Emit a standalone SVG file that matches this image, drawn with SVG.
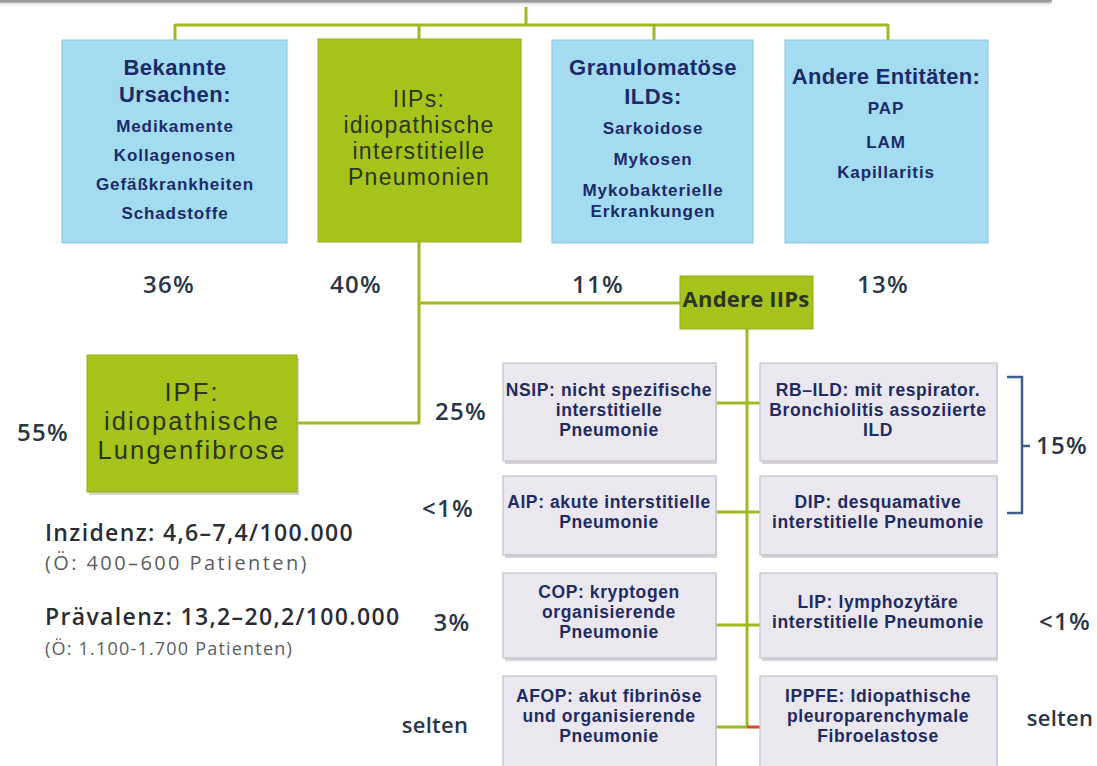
<svg xmlns="http://www.w3.org/2000/svg" width="1097" height="766" viewBox="0 0 1097 766">
<style>
.blue{fill:#a3dbf0;stroke:#8cc3da;stroke-width:1}
.green{fill:#a6c31b;stroke:#93ad1c;stroke-width:1}
.gray{fill:#ebe7ee;stroke:#c4bfc9;stroke-width:1.2}
.shadow{fill:#b9b5bd;opacity:0.6}
.con{fill:none;stroke:#9dbb20;stroke-width:3}
text{font-family:"Liberation Sans",Arial,sans-serif;text-anchor:middle}
.t{fill:#1b2b68;font-weight:700;font-size:22px;letter-spacing:0.5px}
.s{fill:#1b2b68;font-weight:700;font-size:17px;letter-spacing:0.9px}
.g{fill:#1f2c62;font-weight:700;font-size:17.5px;letter-spacing:0.6px}
.o{fill:#2b351f;font-size:23px;letter-spacing:1.3px}
.ipf{fill:#2b351f;font-size:25.5px;letter-spacing:2.1px}
.p{fill:#2b3646;font-family:"Open Sans","Liberation Sans",sans-serif;font-size:24px;font-weight:600;letter-spacing:1.2px}
.info{fill:#2a2d33;font-family:"Open Sans","Liberation Sans",sans-serif;font-size:23px;text-anchor:start;font-weight:600;letter-spacing:1.35px}
.sub{fill:#5a5d63;font-family:"Open Sans","Liberation Sans",sans-serif;font-size:20px;text-anchor:start;letter-spacing:2.4px}
.sub2{fill:#5a5d63;font-family:"Open Sans","Liberation Sans",sans-serif;font-size:18px;text-anchor:start;letter-spacing:1.2px}
</style>
<defs>
<linearGradient id="topbar" x1="0" y1="0" x2="0" y2="1">
<stop offset="0" stop-color="#8d8d8d"/>
<stop offset="1" stop-color="#ffffff" stop-opacity="0"/>
</linearGradient>
</defs>
<rect x="0" y="0" width="1097" height="766" fill="#ffffff"/>
<rect x="0" y="0" width="1052" height="7" fill="url(#topbar)"/>
<rect x="0" y="0" width="1050" height="2.5" fill="#9a9a9a"/>

<g id="connectors">
<path class="con" d="M526 7V25M175 25H888M175 24V40M419 24V39M654 24V40M888 24V40"/>
<path class="con" d="M419 241V423M297 423H420M419 303H680"/>
<path class="con" d="M747 329V727"/>
<path class="con" d="M716 403H760M716 512H760M716 625H760M716 727H747"/>
<path fill="none" stroke="#e0452a" stroke-width="3" d="M747 727H760"/>
</g>

<g id="bekannte">
<rect class="blue" x="62" y="40" width="225" height="203"/>
<text class="t" x="175" y="75">Bekannte</text>
<text class="t" x="175" y="102">Ursachen:</text>
<text class="s" x="175" y="132">Medikamente</text>
<text class="s" x="175" y="161">Kollagenosen</text>
<text class="s" x="175" y="190">Gefäßkrankheiten</text>
<text class="s" x="175" y="219">Schadstoffe</text>
</g>

<g id="iips">
<rect class="green" x="318" y="39" width="203" height="203"/>
<text class="o" x="419" y="107">IIPs:</text>
<text class="o" x="419" y="133">idiopathische</text>
<text class="o" x="419" y="159">interstitielle</text>
<text class="o" x="419" y="185">Pneumonien</text>
</g>

<g id="granulomatoese">
<rect class="blue" x="552" y="40" width="201" height="203"/>
<text class="t" x="653" y="75">Granulomatöse</text>
<text class="t" x="653" y="104">ILDs:</text>
<text class="s" x="653" y="134">Sarkoidose</text>
<text class="s" x="653" y="165">Mykosen</text>
<text class="s" x="653" y="196">Mykobakterielle</text>
<text class="s" x="653" y="217">Erkrankungen</text>
</g>

<g id="andere-entitaeten">
<rect class="blue" x="785" y="40" width="203" height="203"/>
<text class="t" x="886" y="84" style="letter-spacing:0.3px">Andere Entitäten:</text>
<text class="s" x="886" y="114">PAP</text>
<text class="s" x="886" y="148">LAM</text>
<text class="s" x="886" y="178">Kapillaritis</text>
</g>

<g id="percents-top">
<text class="p" x="169" y="293">36%</text>
<text class="p" x="356" y="293">40%</text>
<text class="p" x="598" y="293">11%</text>
<text class="p" x="883" y="293">13%</text>
</g>

<g id="andere-iips">
<rect class="green" x="680" y="276" width="133" height="53"/>
<text x="746" y="307" style="fill:#2b351f;font-family:'Open Sans','Liberation Sans',sans-serif;font-size:22px;font-weight:700;letter-spacing:0.2px">Andere IIPs</text>
</g>

<g id="ipf">
<rect x="89" y="358" width="210" height="137" fill="#b6b6b6" opacity="0.6"/>
<rect class="green" x="87" y="355" width="210" height="137"/>
<text class="ipf" x="192" y="401">IPF:</text>
<text class="ipf" x="192" y="430">idiopathische</text>
<text class="ipf" x="192" y="459">Lungenfibrose</text>
<text class="p" x="43" y="441">55%</text>
</g>

<g id="nsip">
<rect class="shadow" x="505" y="365" width="212" height="99"/>
<rect class="gray" x="503" y="363" width="213" height="98"/>
<text class="g" x="609" y="396">NSIP: nicht spezifische</text>
<text class="g" x="609" y="416">interstitielle</text>
<text class="g" x="609" y="436">Pneumonie</text>
<text class="p" x="461" y="420">25%</text>
</g>

<g id="rb-ild">
<rect class="shadow" x="762" y="365" width="236" height="99"/>
<rect class="gray" x="760" y="363" width="237" height="98"/>
<text class="g" x="878" y="396">RB–ILD: mit respirator.</text>
<text class="g" x="878" y="416">Bronchiolitis assoziierte</text>
<text class="g" x="878" y="436">ILD</text>
</g>

<g id="aip">
<rect class="shadow" x="505" y="478" width="212" height="80"/>
<rect class="gray" x="503" y="476" width="213" height="79"/>
<text class="g" x="609" y="508">AIP: akute interstitielle</text>
<text class="g" x="609" y="528">Pneumonie</text>
<text class="p" x="448" y="517">&lt;1%</text>
</g>

<g id="dip">
<rect class="shadow" x="762" y="478" width="236" height="80"/>
<rect class="gray" x="760" y="476" width="237" height="79"/>
<text class="g" x="878" y="508">DIP: desquamative</text>
<text class="g" x="878" y="528">interstitielle Pneumonie</text>
</g>

<g id="bracket">
<path d="M1007 377H1022V513H1007M1022 446H1030" fill="none" stroke="#3e5f8a" stroke-width="2.5"/>
<text class="p" x="1062" y="454">15%</text>
</g>

<g id="cop">
<rect class="shadow" x="505" y="575" width="212" height="86"/>
<rect class="gray" x="503" y="573" width="213" height="85"/>
<text class="g" x="609" y="598">COP: kryptogen</text>
<text class="g" x="609" y="618">organisierende</text>
<text class="g" x="609" y="638">Pneumonie</text>
<text class="p" x="452" y="631">3%</text>
</g>

<g id="lip">
<rect class="shadow" x="762" y="575" width="236" height="86"/>
<rect class="gray" x="760" y="573" width="237" height="85"/>
<text class="g" x="878" y="608">LIP: lymphozytäre</text>
<text class="g" x="878" y="628">interstitielle Pneumonie</text>
<text class="p" x="1065" y="630">&lt;1%</text>
</g>

<g id="afop">
<rect class="shadow" x="505" y="678" width="212" height="95"/>
<rect class="gray" x="503" y="676" width="213" height="95"/>
<text class="g" x="609" y="702">AFOP: akut fibrinöse</text>
<text class="g" x="609" y="722">und organisierende</text>
<text class="g" x="609" y="742">Pneumonie</text>
<text class="p" x="435" y="733" style="letter-spacing:0.3px;font-size:22px">selten</text>
</g>

<g id="ippfe">
<rect class="shadow" x="762" y="678" width="236" height="95"/>
<rect class="gray" x="760" y="676" width="237" height="95"/>
<text class="g" x="878" y="702">IPPFE: Idiopathische</text>
<text class="g" x="878" y="722">pleuroparenchymale</text>
<text class="g" x="878" y="742">Fibroelastose</text>
<text class="p" x="1060" y="726" style="letter-spacing:0.3px;font-size:22px">selten</text>
</g>

<g id="epidemiologie">
<text class="info" x="45" y="541">Inzidenz: 4,6–7,4/100.000</text>
<text class="sub" x="45" y="570">(Ö: 400–600 Patienten)</text>
<text class="info" x="45" y="625">Prävalenz: 13,2–20,2/100.000</text>
<text class="sub2" x="45" y="655">(Ö: 1.100-1.700 Patienten)</text>
</g>
</svg>
